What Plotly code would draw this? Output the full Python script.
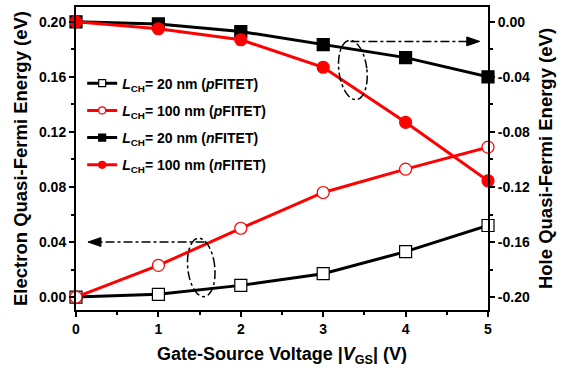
import numpy as np
import plotly.graph_objects as go

# Gate-source voltage |V_GS| (V)
vgs = [0, 1, 2, 3, 4, 5]

# Electron quasi-Fermi energy (eV), pFITET devices (left axis)
e_p20 = [0.000, 0.002, 0.0085, 0.017, 0.033, 0.052]
e_p100 = [0.000, 0.023, 0.050, 0.076, 0.093, 0.109]

# Hole quasi-Fermi energy (eV), nFITET devices (right axis)
h_n20 = [0.000, -0.0015, -0.007, -0.0165, -0.026, -0.040]
h_n100 = [0.000, -0.005, -0.013, -0.033, -0.073, -0.1155]

legend_names = [
    "<i>L</i><sub>CH</sub>= 20 nm (<i>p</i>FITET)",
    "<i>L</i><sub>CH</sub>= 100 nm (<i>p</i>FITET)",
    "<i>L</i><sub>CH</sub>= 20 nm (<i>n</i>FITET)",
    "<i>L</i><sub>CH</sub>= 100 nm (<i>n</i>FITET)",
]

FONT = "Liberation Sans"
RED = "#ff0000"
BLACK = "#000000"

Y1_RANGE = [-0.0094, 0.2108]
Y2_RANGE = [-0.2094, 0.0108]

fig = go.Figure()

series = [
    (e_p20, "y", BLACK, "square", "white", BLACK),
    (e_p100, "y", RED, "circle", "white", RED),
    (h_n20, "y2", BLACK, "square", BLACK, BLACK),
    (h_n100, "y2", RED, "circle", RED, RED),
]

for vals, yax, color, sym, fill, edge in series:
    fig.add_trace(go.Scatter(
        x=vgs, y=vals, yaxis=yax, mode="lines+markers",
        line=dict(color=color, width=3),
        marker=dict(symbol=sym, size=12, color=fill,
                    line=dict(color=edge, width=1.2)),
        showlegend=False, cliponaxis=False,
    ))

# legend entries with smaller markers
for i, ((vals, yax, color, sym, fill, edge), name) in enumerate(
        zip(series, legend_names)):
    fig.add_trace(go.Scatter(
        x=[None], y=[None], yaxis=yax, mode="lines+markers", name=name,
        legendgroup=f"g{i}",
        line=dict(color=color, width=3),
        marker=dict(symbol=sym, size=7, color=fill,
                    line=dict(color=edge, width=1.2)),
    ))

# geometry helpers for the guide ellipses (plot-area pixels per data unit)
PX_X = 412 / 5.0
PX_Y = 305 / (Y1_RANGE[1] - Y1_RANGE[0])


def ellipse_path(cx, cy, rx_px, ry_px, tilt_deg):
    t = np.linspace(0, 2 * np.pi, 60)
    a = np.radians(tilt_deg)
    px = rx_px * np.cos(t)
    py = ry_px * np.sin(t)
    xr = px * np.cos(a) + py * np.sin(a)
    yr = -px * np.sin(a) + py * np.cos(a)
    xs = cx + xr / PX_X
    ys = cy + yr / PX_Y
    pts = [f"{x:.5f},{y:.6f}" for x, y in zip(xs, ys)]
    return "M" + " L".join(pts) + " Z"


def arrow_head(tip_x, y, direction):
    base = tip_x - direction * 13 / PX_X
    h = 4.5 / PX_Y
    return f"M{tip_x},{y} L{base},{y + h} L{base},{y - h} Z"


shapes = []
# left guide: ellipse around pFITET curves pointing to left axis
shapes.append(dict(type="path", xref="x", yref="y",
                   path=ellipse_path(1.52, 0.0215, 13.5, 29.5, -6),
                   line=dict(color=BLACK, width=1.5, dash="dashdot")))
shapes.append(dict(type="line", xref="x", yref="y", x0=1.56, x1=0.28,
                   y0=0.040, y1=0.040,
                   line=dict(color=BLACK, width=1.5, dash="dashdot")))
shapes.append(dict(type="path", xref="x", yref="y",
                   path=arrow_head(0.145, 0.040, -1),
                   fillcolor=BLACK, line=dict(color=BLACK, width=1)))
# right guide: ellipse around nFITET curves pointing to right axis
shapes.append(dict(type="path", xref="x", yref="y2",
                   path=ellipse_path(3.36, -0.035, 14, 30, -7),
                   line=dict(color=BLACK, width=1.5, dash="dashdot")))
shapes.append(dict(type="line", xref="x", yref="y2", x0=3.33, x1=4.75,
                   y0=-0.0142, y1=-0.0142,
                   line=dict(color=BLACK, width=1.5, dash="dashdot")))
shapes.append(dict(type="path", xref="x", yref="y2",
                   path=arrow_head(4.9, -0.0142, 1),
                   fillcolor=BLACK, line=dict(color=BLACK, width=1)))

axis_common = dict(
    showgrid=False, zeroline=False, showline=True, linecolor=BLACK,
    linewidth=2, ticks="outside", tickwidth=1.5, ticklen=5,
    tickcolor=BLACK,
    tickfont=dict(family=FONT, size=14, color=BLACK, weight="bold"),
)

TITLE_FONT = dict(family=FONT, size=18.5, color=BLACK, weight="bold")

fig.update_layout(
    width=568, height=370,
    margin=dict(l=76, r=80, t=5, b=60),
    paper_bgcolor="white", plot_bgcolor="white",
    font=dict(family=FONT, color=BLACK),
    shapes=shapes,
    xaxis=dict(
        **axis_common, range=[0, 5], tickvals=[0, 1, 2, 3, 4, 5],
        minor=dict(ticks="outside", dtick=0.5, ticklen=3, tickwidth=1.5,
                   tickcolor=BLACK),
        mirror=True,
        title=dict(text="Gate-Source Voltage |<i>V</i><sub>GS</sub>| (V)",
                   font=dict(family=FONT, size=18, color=BLACK, weight="bold"),
                   standoff=12),
    ),
    yaxis=dict(
        **axis_common, range=Y1_RANGE,
        tickvals=[0, 0.04, 0.08, 0.12, 0.16, 0.20],
        ticktext=["0.00", "0.04", "0.08", "0.12", "0.16", "0.20"],
        minor=dict(ticks="outside", tickvals=[0.02, 0.06, 0.10, 0.14, 0.18],
                   ticklen=3, tickwidth=1.5, tickcolor=BLACK),
        title=dict(text="Electron Quasi-Fermi Energy (eV)",
                   font=TITLE_FONT, standoff=6),
    ),
    yaxis2=dict(
        **axis_common, range=Y2_RANGE, overlaying="y", side="right",
        tickvals=[-0.20, -0.16, -0.12, -0.08, -0.04, 0.0],
        ticktext=["-0.20", "-0.16", "-0.12", "-0.08", "-0.04", "0.00"],
        minor=dict(ticks="outside",
                   tickvals=[-0.18, -0.14, -0.10, -0.06, -0.02],
                   ticklen=3, tickwidth=1.5, tickcolor=BLACK),
        title=dict(text="Hole Quasi-Fermi Energy (eV)",
                   font=TITLE_FONT, standoff=10),
    ),
    legend=dict(
        x=0.015, y=0.80, xanchor="left", yanchor="top",
        bgcolor="rgba(0,0,0,0)",
        font=dict(family=FONT, size=14, color=BLACK, weight="bold"),
        tracegroupgap=6, itemwidth=30,
    ),
)

fig.write_html("out.html")
